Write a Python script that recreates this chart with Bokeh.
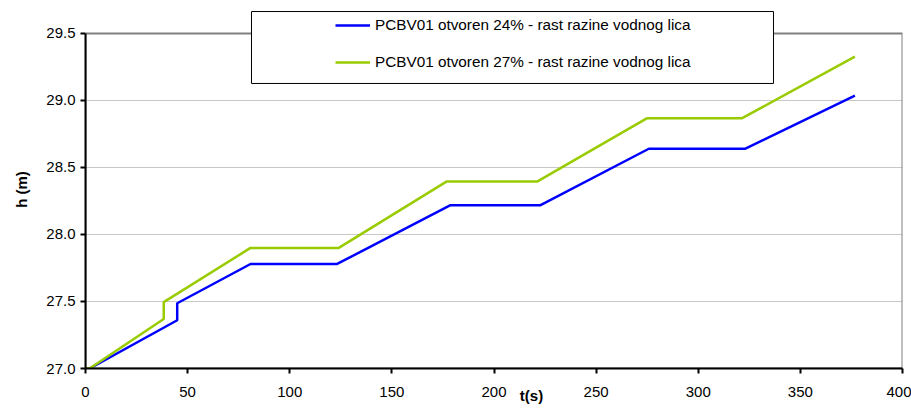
from bokeh.plotting import figure
from bokeh.models import (Legend, LegendItem, BoxAnnotation, FixedTicker,
                          NumeralTickFormatter, Range1d)
from bokeh.embed import file_html
from bokeh.resources import INLINE

# --- data ---
t_24 = [0, 2, 44.9, 44.9, 80.8, 123.2, 178.7, 222.8, 275.8, 323.1, 376.7]
h_24 = [27.0, 27.0, 27.36, 27.487, 27.78, 27.78, 28.219, 28.219, 28.64, 28.64, 29.037]
t_27 = [0, 2, 38.3, 38.3, 80.8, 124.0, 176.7, 221.1, 275.0, 321.5, 376.7]
h_27 = [27.0, 27.0, 27.37, 27.495, 27.90, 27.90, 28.395, 28.395, 28.868, 28.868, 29.328]
label_24 = "PCBV01 otvoren 24% - rast razine vodnog lica"
label_27 = "PCBV01 otvoren 27% - rast razine vodnog lica"
x_ticks = [0, 50, 100, 150, 200, 250, 300, 350, 400]
y_ticks = [27.0, 27.5, 28.0, 28.5, 29.0, 29.5]
x_title = "t(s)"
y_title = "h (m)"

FONT = "Liberation Sans"
Y_MIN, Y_MAX = 27.0, 29.5
X_MIN, X_MAX = 0, 400

# frame extends a little above 29.5 so the legend box (which overhangs the plot area) is visible
p = figure(width=911, height=408, output_backend="svg", toolbar_location=None,
           x_range=Range1d(X_MIN, X_MAX), y_range=Range1d(Y_MIN, 29.6716),
           min_border_left=85, min_border_right=9, min_border_top=10, min_border_bottom=40)

p.background_fill_color = "white"
p.border_fill_color = "white"
p.outline_line_color = None

p.xgrid.grid_line_color = None
p.ygrid.grid_line_color = "#c8c8c8"
p.ygrid.grid_line_width = 1

for ax in (p.xaxis, p.yaxis):
    ax.axis_line_color = "black"
    ax.axis_line_width = 2
    ax.major_tick_line_color = "black"
    ax.major_tick_line_width = 2
    ax.major_tick_out = 5
    ax.major_tick_in = 0
    ax.minor_tick_line_color = None
    ax.major_label_text_font = FONT
    ax.major_label_text_font_size = "15px"
    ax.major_label_text_color = "black"
    ax.axis_label_text_font = FONT
    ax.axis_label_text_font_style = "bold"
    ax.axis_label_text_font_size = "15px"
    ax.axis_label_text_color = "black"

p.xaxis.ticker = FixedTicker(ticks=x_ticks)
p.yaxis.ticker = FixedTicker(ticks=y_ticks)
p.yaxis.bounds = (Y_MIN, Y_MAX)
p.yaxis.formatter = NumeralTickFormatter(format="0.0")
p.xaxis.major_label_standoff = 13
p.yaxis.major_label_standoff = 5

p.yaxis.axis_label = y_title
p.yaxis.axis_label_standoff = 13

# x title sits right of centre in the reference: pad with no-break spaces
p.xaxis.axis_label = "\u00a0" * 18 + x_title
p.xaxis.axis_label_standoff = -13

# plot-area border (grey, Excel style)
plot_area = BoxAnnotation(left=X_MIN, right=X_MAX, bottom=Y_MIN, top=Y_MAX,
                          fill_alpha=0, line_color="#808080", line_alpha=1.0,
                          line_width=2, level="underlay")
p.add_layout(plot_area)

r24 = p.line(t_24, h_24, line_color="#0000FF", line_width=2.5)
r27 = p.line(t_27, h_27, line_color="#99CC00", line_width=2.5)

legend_box = BoxAnnotation(left=81.27, right=336.84, bottom=29.127, top=29.664,
                           fill_color="white", fill_alpha=1.0,
                           line_color="black", line_alpha=1.0, line_width=1)
p.add_layout(legend_box)

legend = Legend(items=[LegendItem(label=label_24, renderers=[r24]),
                       LegendItem(label=label_27, renderers=[r27])],
                location=(245, 291), padding=5, spacing=17,
                label_height=20, glyph_height=20, glyph_width=35,
                label_standoff=5, label_text_font=FONT,
                label_text_font_size="15.3px", label_text_color="black",
                border_line_alpha=0, background_fill_alpha=0)
p.add_layout(legend)

open("out.html", "w").write(file_html(p, INLINE))
